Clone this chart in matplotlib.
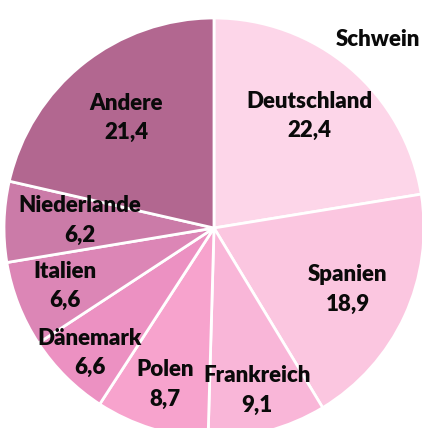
import matplotlib
matplotlib.use("Agg")
import matplotlib.pyplot as plt
import numpy as np

categories = ["Deutschland", "Spanien", "Frankreich", "Polen", "Dänemark", "Italien", "Niederlande", "Andere"]
values = [22.4, 18.9, 9.1, 8.7, 6.6, 6.6, 6.2, 21.4]
value_labels = ["22,4", "18,9", "9,1", "8,7", "6,6", "6,6", "6,2", "21,4"]
title = "Schwein"

colors = ["#FDD6E9", "#FBC6E0", "#F9B6D8", "#F7A3CD", "#EC91C2", "#DC86B6", "#CB7BA8", "#B26790"]
label_r = [0.70, 0.70, 0.80, 0.78, 0.84, 0.76, 0.64, 0.67]
label_dang = [0, 0, 0, 0, 0, 0, -1.5, 0]

plt.rcParams['font.family'] = ['Lato', 'DejaVu Sans']

fig = plt.figure(figsize=(4.22, 4.28), dpi=100)
ax = fig.add_axes([0, 0, 1, 1])
wedges, _ = ax.pie(values, colors=colors, startangle=90, counterclock=False,
                   radius=1.0, wedgeprops=dict(edgecolor="white", linewidth=2))
for w, name, vl, r, da in zip(wedges, categories, value_labels, label_r, label_dang):
    ang = np.deg2rad((w.theta1 + w.theta2) / 2 + da)
    x, y = r * np.cos(ang), r * np.sin(ang)
    ax.text(x, y, f"{name}\n{vl}", ha="center", va="center", fontsize=16,
            fontweight="heavy", color="#0a0a0a", linespacing=1.5)

ax.text(0.995, 0.907, title, transform=ax.transAxes, ha="right", va="center",
        fontsize=16, fontweight="heavy", color="#0a0a0a")

ax.set_xlim(-214 / 210, 208 / 210)
ax.set_ylim(-200 / 210, 228 / 210)
ax.set_aspect("equal")
ax.axis("off")
fig.savefig("out.png", dpi=100)
